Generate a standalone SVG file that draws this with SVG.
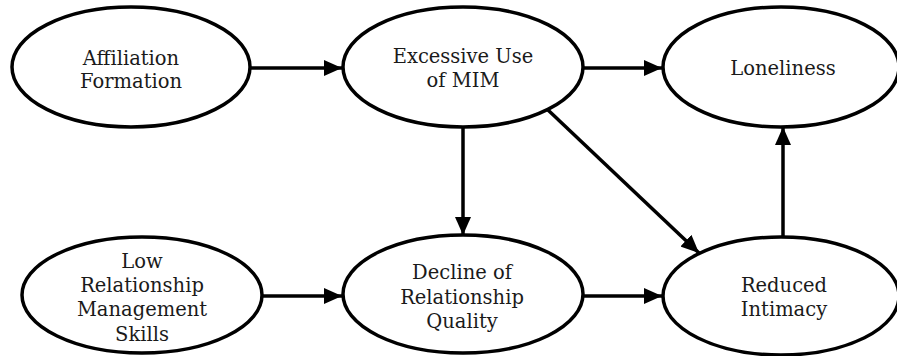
<svg xmlns="http://www.w3.org/2000/svg" width="897" height="356" viewBox="0 0 897 356">
<style>
.n ellipse{fill:#fff;stroke:#000;stroke-width:3.5}
.n text{font-family:"DejaVu Serif","Liberation Serif",serif;font-size:19.5px;fill:#1a1a1a;text-anchor:middle}
.c line{stroke:#000;stroke-width:3.5}
</style>
<defs>
<marker id="ah" viewBox="0 0 18 16" refX="18" refY="8" markerWidth="18" markerHeight="16" markerUnits="userSpaceOnUse" orient="auto">
<path d="M0,0 L18,8 L0,16 Z" fill="#000"/>
</marker>
</defs>
<g class="c">
<line x1="251" y1="68" x2="342" y2="68" marker-end="url(#ah)"/>
<line x1="583" y1="68" x2="662" y2="68" marker-end="url(#ah)"/>
<line x1="463" y1="126" x2="463" y2="235" marker-end="url(#ah)"/>
<line x1="548" y1="110" x2="699" y2="253" marker-end="url(#ah)"/>
<line x1="263" y1="296" x2="342" y2="296" marker-end="url(#ah)"/>
<line x1="583" y1="296" x2="662" y2="296" marker-end="url(#ah)"/>
<line x1="783" y1="237" x2="783" y2="127" marker-end="url(#ah)"/>
</g>
<g id="affiliation" class="n"><ellipse cx="131" cy="67" rx="119" ry="60"/><text x="131" y="65">Affiliation</text><text x="131" y="88">Formation</text></g>
<g id="excessive" class="n"><ellipse cx="463" cy="67" rx="120" ry="60"/><text x="463" y="63">Excessive Use</text><text x="463" y="87">of MIM</text></g>
<g id="loneliness" class="n"><ellipse cx="781" cy="67" rx="118" ry="60"/><text x="783" y="75">Loneliness</text></g>
<g id="low" class="n"><ellipse cx="142" cy="295" rx="120" ry="58"/><text x="142" y="268">Low</text><text x="142" y="292">Relationship</text><text x="142" y="316">Management</text><text x="142" y="341">Skills</text></g>
<g id="decline" class="n"><ellipse cx="463" cy="294" rx="120" ry="59"/><text x="462" y="279">Decline of</text><text x="462" y="304">Relationship</text><text x="462" y="328">Quality</text></g>
<g id="reduced" class="n"><ellipse cx="781" cy="296" rx="118" ry="59"/><text x="784" y="292">Reduced</text><text x="784" y="316">Intimacy</text></g>
</svg>
